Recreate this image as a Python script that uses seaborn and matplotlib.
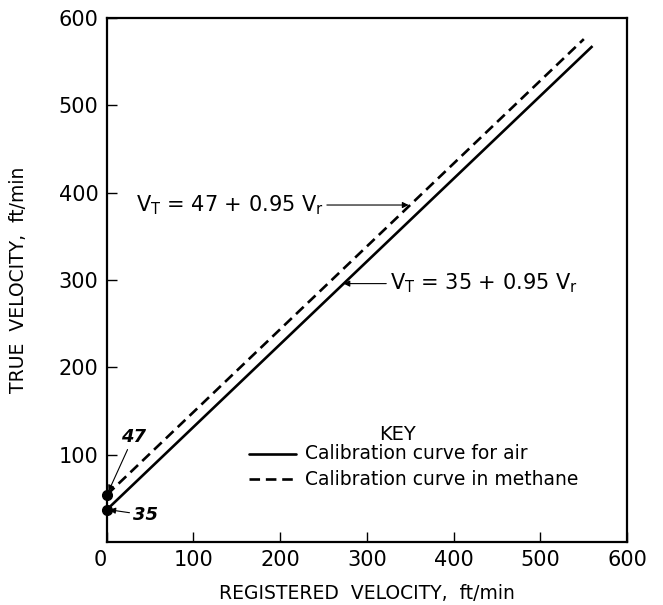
import pandas as pd
import seaborn as sns
import matplotlib.pyplot as plt

# line end points
air_x = [0, 560]
air_y = [37, 568]
methane_x = [0, 550]
methane_y = [54, 576]
x_ticks = [0, 100, 200, 300, 400, 500, 600]
y_ticks = [100, 200, 300, 400, 500, 600]

df = pd.concat([
    pd.DataFrame({'reg': air_x, 'true': air_y, 'curve': 'Calibration curve for air'}),
    pd.DataFrame({'reg': methane_x, 'true': methane_y, 'curve': 'Calibration curve in methane'}),
])

sns.set_style('ticks')
plt.rcParams['font.family'] = ['DejaVu Sans']
plt.rcParams['mathtext.fontset'] = 'dejavusans'
plt.rcParams['text.color'] = 'black'
plt.rcParams['axes.labelcolor'] = 'black'

fig = plt.figure(figsize=(6.63, 6.05), dpi=100)
ax = fig.add_axes([0.161, 0.104, 0.785, 0.866])

sns.lineplot(data=df, x='reg', y='true', hue='curve', style='curve',
             palette=['black', 'black'], dashes=[(1, 0), (4, 2.2)],
             linewidth=1.9, ax=ax, legend=False)

# end dots on the axis
ax.plot([air_x[0], methane_x[0]], [air_y[0], methane_y[0]], 'o', color='black',
        markersize=7, clip_on=False, zorder=5)

ax.set_xlim(0, 600)
ax.set_ylim(0, 600)
ax.set_xticks(x_ticks)
ax.set_yticks(y_ticks)
ax.tick_params(direction='in', length=7, width=1, labelsize=15, pad=6, colors='black')
ax.get_xticklabels()[0].set_ha('right')
for s in ax.spines.values():
    s.set_linewidth(1.6)
    s.set_color('black')

ax.set_xlabel('REGISTERED  VELOCITY,  ft/min', fontsize=13.5, labelpad=10)
ax.set_ylabel('TRUE  VELOCITY,  ft/min', fontsize=13.5, labelpad=22)

arrow = dict(arrowstyle='-|>', color='black', lw=0.8, mutation_scale=9,
             shrinkA=0, shrinkB=0)

ax.annotate(r'$\mathregular{V_T}$ = 47 + 0.95 $\mathregular{V_r}$', xy=(348, 386),
            xytext=(250, 386), fontsize=15, ha='right', va='center',
            arrowprops=arrow)
ax.annotate(r'$\mathregular{V_T}$ = 35 + 0.95 $\mathregular{V_r}$', xy=(273, 296),
            xytext=(326, 296), fontsize=15, ha='left', va='center',
            arrowprops=arrow)

ax.annotate('47', xy=(2, 58), xytext=(16, 120), fontsize=13, style='italic',
            fontweight='bold', ha='left', va='center', arrowprops=arrow)
ax.annotate('35', xy=(3, 37), xytext=(30, 31), fontsize=13, style='italic',
            fontweight='bold', ha='left', va='center', arrowprops=arrow)

# key
ax.text(335, 123, 'KEY', fontsize=14, ha='center', va='center')
ax.plot([164, 218], [101, 101], color='black', lw=1.9)
ax.plot([164, 218], [72, 72], color='black', lw=1.9, dashes=(4, 2.2))
ax.text(228, 101, 'Calibration curve for air', fontsize=13.5, ha='left', va='center')
ax.text(228, 72, 'Calibration curve in methane', fontsize=13.5, ha='left', va='center')

fig.savefig('out.png', dpi=100)
